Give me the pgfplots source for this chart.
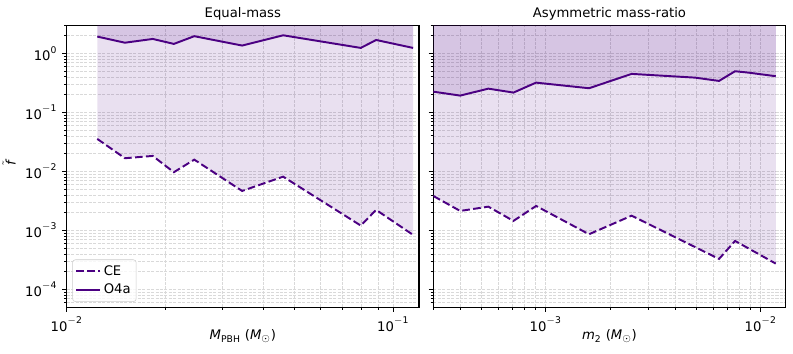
\documentclass[border=0pt]{standalone}
\usepackage{fontspec}
\setmainfont{DejaVu Sans}
\setsansfont{DejaVu Sans}
\usepackage{pgfplots}
\pgfplotsset{compat=1.18}
\usetikzlibrary{calc}
\definecolor{indigo}{HTML}{4B0082}

\newcommand{\fs}{\fontsize{9.5}{11.4}\selectfont}

\pgfplotsset{
  log number format basis/.code 2 args={$\mathsf{#1^{\pgfmathprintnumber{#2}}}$},
  every axis/.append style={
    width=253.7pt, height=203pt, scale only axis,
    ymin=5e-5, ymax=3,
    ytick={1e-4,1e-3,1e-2,1e-1,1},
    minor ytick={6e-5,7e-5,8e-5,9e-5,
      2e-4,3e-4,4e-4,5e-4,6e-4,7e-4,8e-4,9e-4,
      2e-3,3e-3,4e-3,5e-3,6e-3,7e-3,8e-3,9e-3,
      2e-2,3e-2,4e-2,5e-2,6e-2,7e-2,8e-2,9e-2,
      0.2,0.3,0.4,0.5,0.6,0.7,0.8,0.9,2,3},
    grid=both,
    major grid style={draw=black!15, line width=0.55pt, dash pattern=on 2.2pt off 1pt},
    minor grid style={draw=black!15, line width=0.55pt, dash pattern=on 2.2pt off 1pt},
    tick align=outside,
    xtick pos=left, ytick pos=left,
    major tick length=3.3pt, minor tick length=1.9pt,
    tick style={black, line width=0.6pt},
    axis line style={line width=0.76pt},
    tick label style={font=\fs},
    every axis label/.append style={font=\fs},
    every axis x label/.append style={yshift=8.6pt},
    every axis y label/.append style={xshift=2pt},
    every axis title/.append style={font=\fs, yshift=-5.8pt},
  },
}
\tikzset{
  myce/.style={indigo, line width=1.4pt, dash pattern=on 5.5pt off 2.4pt},
  myo4/.style={indigo, line width=1.4pt},
  myfill/.style={fill=indigo, fill opacity=0.12, draw=none},
}

\begin{document}
\begin{tikzpicture}

% ---- left panel: equal-mass ----
\begin{loglogaxis}[name=lpanel,
    xmin=0.01, xmax=0.12,
    xtick={0.01,0.1},
    minor xtick={0.02,0.03,0.04,0.05,0.06,0.07,0.08,0.09},
    title={Equal-mass},
    xlabel={$\mathit{M}_{\mathsf{PBH}}$ ($\mathit{M}_\odot$)},
    ylabel={$\tilde{\mathit{f}}$},
    legend style={at={(0.016,0.019)}, anchor=south west, font=\fs,
      draw=black!20, fill=white, fill opacity=0.8, text opacity=1,
      rounded corners=2pt, inner sep=2pt, row sep=1pt},
    legend cell align=left,
]
\addplot[myfill, forget plot] coordinates {
  (0.01241,0.0356) (0.01508,0.01675) (0.01835,0.01832) (0.0213,0.0097)
  (0.0246,0.01585) (0.03447,0.00467) (0.04603,0.00816) (0.0796,0.00121)
  (0.0887,0.00223) (0.1151,0.00084) (0.1151,10) (0.01241,10)
};
\addplot[myfill, forget plot] coordinates {
  (0.01241,1.93) (0.01508,1.52) (0.01835,1.76) (0.0213,1.45)
  (0.0246,1.96) (0.03447,1.36) (0.04603,2.03) (0.0796,1.24)
  (0.0887,1.69) (0.1151,1.24) (0.1151,10) (0.01241,10)
};
\addplot[myce] coordinates {
  (0.01241,0.0356) (0.01508,0.01675) (0.01835,0.01832) (0.0213,0.0097)
  (0.0246,0.01585) (0.03447,0.00467) (0.04603,0.00816) (0.0796,0.00121)
  (0.0887,0.00223) (0.1151,0.00084)
};
\addlegendentry{CE}
\addplot[myo4] coordinates {
  (0.01241,1.93) (0.01508,1.52) (0.01835,1.76) (0.0213,1.45)
  (0.0246,1.96) (0.03447,1.36) (0.04603,2.03) (0.0796,1.24)
  (0.0887,1.69) (0.1151,1.24)
};
\addlegendentry{O4a}
\end{loglogaxis}

% ---- right panel: asymmetric mass-ratio ----
\begin{loglogaxis}[name=rpanel,
    at={($(lpanel.south east)+(10.3pt,0)$)}, anchor=south west,
    xmin=3e-4, xmax=0.01306,
    xtick={1e-3,1e-2},
    minor xtick={3e-4,4e-4,5e-4,6e-4,7e-4,8e-4,9e-4,
      2e-3,3e-3,4e-3,5e-3,6e-3,7e-3,8e-3,9e-3},
    yticklabels={},
    title={Asymmetric mass-ratio},
    xlabel={$\mathit{m}_{\mathsf{2}}$ ($\mathit{M}_\odot$)},
]
\addplot[myfill, forget plot] coordinates {
  (3.0e-4,3.84e-3) (4.0e-4,2.14e-3) (5.41e-4,2.53e-3) (7.08e-4,1.45e-3)
  (9.02e-4,2.60e-3) (1.59e-3,8.62e-4) (2.51e-3,1.78e-3) (6.40e-3,3.29e-4)
  (7.60e-3,6.64e-4) (1.175e-2,2.74e-4) (1.175e-2,10) (3.0e-4,10)
};
\addplot[myfill, forget plot] coordinates {
  (3.0e-4,0.225) (4.0e-4,0.193) (5.41e-4,0.253) (7.08e-4,0.217)
  (9.02e-4,0.320) (1.59e-3,0.257) (2.51e-3,0.450) (4.95e-3,0.389)
  (6.40e-3,0.342) (7.60e-3,0.499) (8.76e-3,0.473) (1.175e-2,0.411)
  (1.175e-2,10) (3.0e-4,10)
};
\addplot[myce] coordinates {
  (3.0e-4,3.84e-3) (4.0e-4,2.14e-3) (5.41e-4,2.53e-3) (7.08e-4,1.45e-3)
  (9.02e-4,2.60e-3) (1.59e-3,8.62e-4) (2.51e-3,1.78e-3) (6.40e-3,3.29e-4)
  (7.60e-3,6.64e-4) (1.175e-2,2.74e-4)
};
\addplot[myo4] coordinates {
  (3.0e-4,0.225) (4.0e-4,0.193) (5.41e-4,0.253) (7.08e-4,0.217)
  (9.02e-4,0.320) (1.59e-3,0.257) (2.51e-3,0.450) (4.95e-3,0.389)
  (6.40e-3,0.342) (7.60e-3,0.499) (8.76e-3,0.473) (1.175e-2,0.411)
};
\end{loglogaxis}

\pgfresetboundingbox
\path[use as bounding box] ($(lpanel.south west)+(-48pt,-33.6pt)$)
  rectangle ($(rpanel.north east)+(5.3pt,18.2pt)$);
\end{tikzpicture}
\end{document}
